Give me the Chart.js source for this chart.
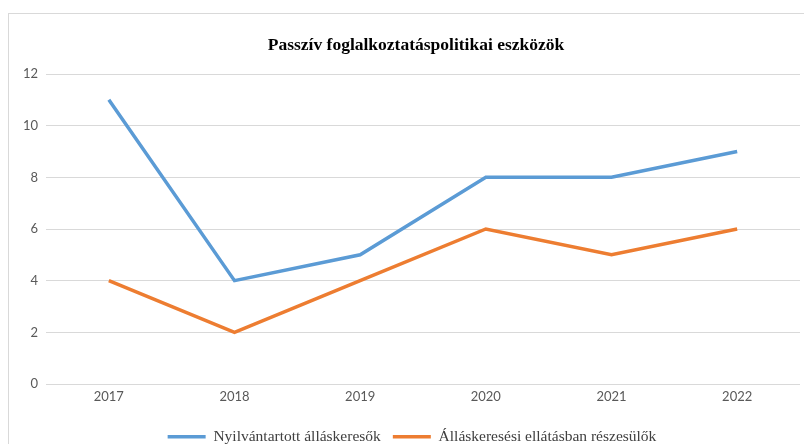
<!DOCTYPE html>
<html>
<head>
<meta charset="utf-8">
<script src="https://cdn.jsdelivr.net/npm/chart.js@4/dist/chart.umd.min.js"></script>
<style>
  html, body { margin: 0; padding: 0; background: #fff; }
  #wrap { position: relative; width: 804px; height: 444px; }
</style>
</head>
<body>
<div id="wrap"><canvas id="chart" width="804" height="444"></canvas></div>
<script>
// chart data
const years = ['2017', '2018', '2019', '2020', '2021', '2022'];
const nyilvantartott = [11, 4, 5, 8, 8, 9];
const ellatasban = [4, 2, 4, 6, 5, 6];
const yTicks = [0, 2, 4, 6, 8, 10, 12];

const BLUE = '#5B9BD5';
const ORANGE = '#ED7D31';
const GRID = '#D9D9D9';
const TICK = '#595959';

// light frame around the whole chart, as in the Excel export
const framePlugin = {
  id: 'frame',
  beforeDraw(chart) {
    const ctx = chart.ctx;
    ctx.save();
    ctx.strokeStyle = '#D9D9D9';
    ctx.lineWidth = 1;
    ctx.strokeRect(8.5, 13.5, 820, 460);
    ctx.restore();
  },
};

// the original chart frame is wider than the crop, so title/legend sit a bit right of centre
const centerShift = {
  id: 'centerShift',
  afterLayout(chart) {
    if (chart.titleBlock) {
      chart.titleBlock.left += 16;
      chart.titleBlock.right += 16;
    }
    if (chart.legend) {
      chart.legend.left += 12;
      chart.legend.right += 12;
    }
  },
};

const ctx = document.getElementById('chart').getContext('2d');
new Chart(ctx, {
  type: 'line',
  data: {
    labels: years,
    datasets: [
      {
        label: 'Nyilvántartott álláskeresők',
        data: nyilvantartott,
        borderColor: BLUE,
        backgroundColor: BLUE,
        borderWidth: 3.5,
        pointRadius: 0,
        tension: 0,
        fill: false,
      },
      {
        label: 'Álláskeresési ellátásban részesülők',
        data: ellatasban,
        borderColor: ORANGE,
        backgroundColor: ORANGE,
        borderWidth: 3.5,
        pointRadius: 0,
        tension: 0,
        fill: false,
      },
    ],
  },
  options: {
    responsive: false,
    animation: false,
    layout: { padding: { left: 0, right: 4, top: 0, bottom: 0 } },
    plugins: {
      title: {
        display: true,
        text: 'Passzív foglalkoztatáspolitikai eszközök',
        color: '#000',
        font: { family: '"Liberation Serif", "Times New Roman", serif', size: 17.5, weight: 'bold' },
        padding: { top: 35, bottom: 18 },
      },
      legend: {
        position: 'bottom',
        maxHeight: 27,
        labels: {
          usePointStyle: true,
          pointStyle: 'line',
          pointStyleWidth: 38,
          color: '#404040',
          padding: 12,
          font: { family: '"Liberation Serif", "Times New Roman", serif', size: 15.5 },
        },
      },
      tooltip: { enabled: false },
    },
    scales: {
      x: {
        offset: true,
        grid: { display: false, drawTicks: false },
        border: { display: false },
        afterFit(axis) {
          axis.height = 33;
        },
        ticks: { color: TICK, font: { family: 'Lato, "Open Sans", sans-serif', size: 13 }, padding: 5 },
      },
      y: {
        min: 0,
        max: 12,
        afterBuildTicks(axis) {
          axis.ticks = yTicks.map((v) => ({ value: v }));
        },
        afterFit(axis) {
          axis.width = 46;
        },
        grid: { color: GRID, lineWidth: 1, drawTicks: false },
        border: { display: false },
        ticks: { color: TICK, font: { family: 'Lato, "Open Sans", sans-serif', size: 13 }, padding: 8 },
      },
    },
  },
  plugins: [framePlugin, centerShift],
});
</script>
</body>
</html>
